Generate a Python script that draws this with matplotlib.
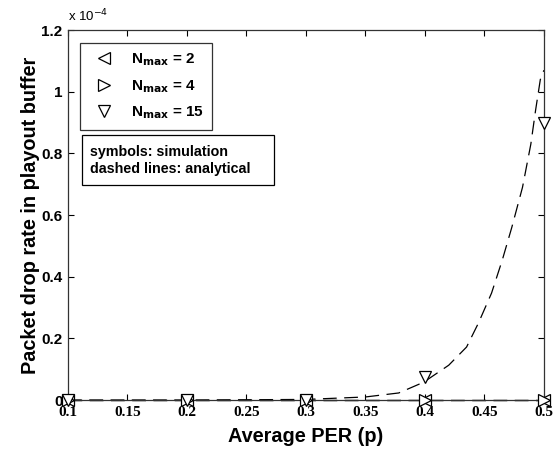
import matplotlib
matplotlib.use("Agg")
import matplotlib.pyplot as plt
from matplotlib.patches import Rectangle

# simulation points (values in units of 1e-4)
per = [0.1, 0.2, 0.3, 0.4, 0.5]
sim_n2 = [0, 0, 0, 0, 0]
sim_n4 = [0, 0, 0, 0, 0]
sim_n15 = [0, 0, 0, 0.075, 0.90]

# analytical curves (values in units of 1e-4)
ana_p = [0.1, 0.2, 0.3, 0.35, 0.378, 0.399, 0.42, 0.435, 0.445, 0.456,
         0.465, 0.473, 0.482, 0.489, 0.493, 0.497, 0.5]
ana_n15 = [0, 0, 0.002, 0.01, 0.023, 0.058, 0.113, 0.172, 0.25, 0.347,
           0.454, 0.56, 0.69, 0.83, 0.94, 1.04, 1.07]
ana_n2 = [0, 0, 0, 0, 0]
ana_n4 = [0, 0, 0, 0, 0]

xticks = [0.1, 0.15, 0.2, 0.25, 0.3, 0.35, 0.4, 0.45, 0.5]
xticklabels = ["0.1", "0.15", "0.2", "0.25", "0.3", "0.35", "0.4", "0.45", "0.5"]
yticks = [0, 0.2, 0.4, 0.6, 0.8, 1.0, 1.2]
yticklabels = ["0", "0.2", "0.4", "0.6", "0.8", "1", "1.2"]

fig = plt.figure(figsize=(5.59, 4.5), dpi=100)
ax = fig.add_axes([0.1216, 0.111, 0.8514, 0.822])

dash = dict(color="black", lw=0.9, ls=(0, (11, 6)))
ax.plot(per, ana_n2, **dash, clip_on=False)
ax.plot(per, ana_n4, **dash, clip_on=False)
ax.plot(ana_p, ana_n15, **dash, clip_on=False)

mk = dict(ls="none", mfc="white", mec="black", mew=0.9, ms=9, clip_on=False, zorder=5)
h2, = ax.plot(per, sim_n2, marker="<", **mk)
h4, = ax.plot(per, sim_n4, marker=">", **mk)
h15, = ax.plot(per, sim_n15, marker="v", **mk)

ax.set_xlim(0.1, 0.5)
ax.set_ylim(0, 1.2)
ax.set_xticks(xticks)
ax.set_xticklabels(xticklabels, family="Liberation Serif", fontsize=11, fontweight="bold")
ax.set_yticks(yticks)
ax.set_yticklabels(yticklabels, family="Liberation Sans", fontsize=11, fontweight="bold")
ax.tick_params(direction="in", top=True, right=True, length=4, pad=4)
for s in ax.spines.values():
    s.set_linewidth(0.9)
    s.set_color("#333333")

ax.set_xlabel("Average PER (p)", family="Liberation Sans", fontsize=14.3, fontweight="bold", labelpad=6)
ax.set_ylabel("Packet drop rate in playout buffer", family="Liberation Sans", fontsize=14.3,
              fontweight="bold", labelpad=1)
ax.text(0.0, 1.015, r"x 10$^{-4}$", transform=ax.transAxes, fontsize=9.5,
        family="Liberation Sans", ha="left", va="bottom")

leg = ax.legend([h2, h4, h15],
                [r"N$_{\mathbf{max}}$ = 2", r"N$_{\mathbf{max}}$ = 4", r"N$_{\mathbf{max}}$ = 15"],
                loc="upper left", bbox_to_anchor=(0.025, 0.965), borderaxespad=0,
                frameon=True, fancybox=False, edgecolor="black",
                prop={"family": "Liberation Sans", "weight": "bold", "size": 11},
                handlelength=2.0, borderpad=0.55, labelspacing=0.65)
leg.get_frame().set_linewidth(0.9)

# annotation box
ax.add_patch(Rectangle((0.029, 0.581), 0.404, 0.135, transform=ax.transAxes,
                       fc="white", ec="black", lw=0.9, zorder=6))
ax.text(0.046, 0.6485, "symbols: simulation\ndashed lines: analytical", transform=ax.transAxes,
        family="Liberation Sans", fontweight="bold", fontsize=10.3, va="center", ha="left",
        linespacing=1.25, zorder=7)

fig.savefig("out.png", dpi=100)
